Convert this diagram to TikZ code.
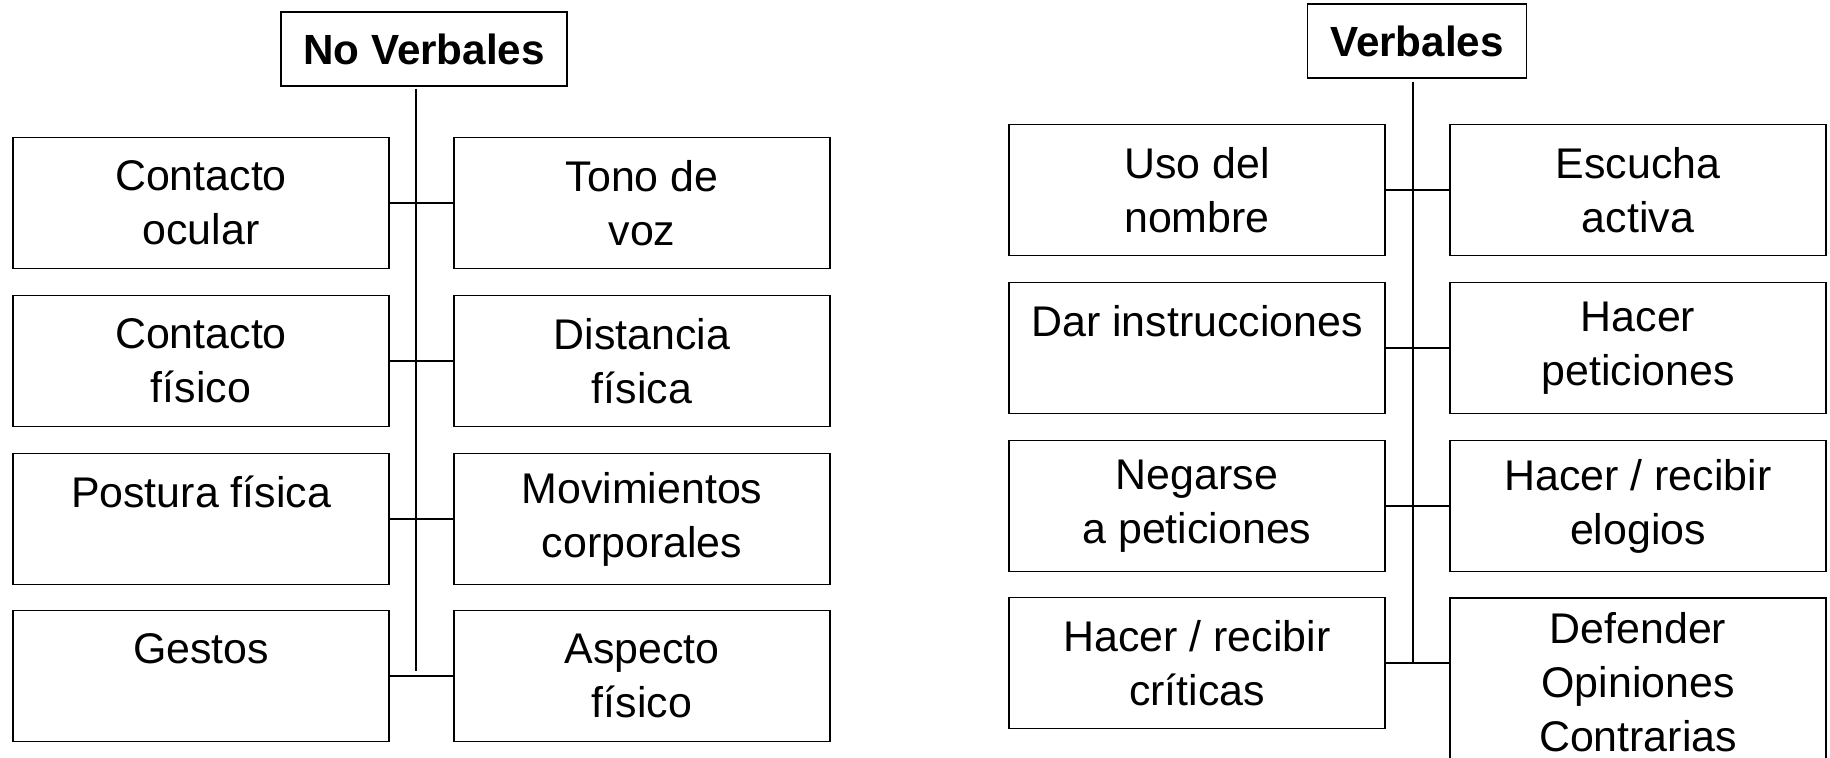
\documentclass[tikz,border=0pt]{standalone}
\usepackage{fontspec}
\setmainfont{Liberation Sans}
\usepackage{tikz}
\usepackage{xcolor}

\begin{document}
\begin{tikzpicture}[x=0.01cm, y=-0.01cm,
  every node/.style={font=\fontsize{12.2}{15.4}\selectfont},
  box/.style={draw, rectangle, line width=0.5pt, minimum width=3.76cm, minimum height=1.31cm, align=center, inner sep=2pt},
  headbox/.style={draw, rectangle, line width=0.5pt, minimum height=0.74cm, font=\fontsize{12}{14}\selectfont\bfseries},
  spine/.style={line width=0.6pt},
  link/.style={line width=0.5pt}]
\useasboundingbox (0,0) rectangle (1830,757);

\node[headbox, minimum width=2.86cm] (nv) at (424,49) {No Verbales};
\node[box] (co) at (201,203) {Contacto\\ocular};
\node[box] (tv) at (642,203) {Tono de\\voz};
\node[box] (cf) at (201,361) {Contacto\\físico};
\node[box] (df) at (642,361) {Distancia\\física};
\node[box] (pf) at (201,519) {Postura física\\\mbox{}};
\node[box] (mc) at (642,519) {Movimientos\\corporales};
\node[box] (ge) at (201,676) {Gestos\\\mbox{}};
\node[box] (af) at (642,676) {Aspecto\\físico};
\coordinate (nvend) at (416,671);

\draw[spine] (nvend |- nv.south) ++(0,2) -- (nvend);
\draw[link] (co.east) -- (tv.west);
\draw[link] (cf.east) -- (df.west);
\draw[link] (pf.east) -- (mc.west);
\draw[link] (ge.east) -- (af.west);

\node[headbox, minimum width=2.19cm] (vb) at (1417,41) {Verbales};
\node[box] (un) at (1197,190) {Uso del\\nombre};
\node[box] (ea) at (1638,190) {Escucha\\activa};
\node[box] (di) at (1197,348) {Dar instrucciones\\\mbox{}};
\node[box] (hp) at (1638,348) {Hacer\\peticiones};
\node[box] (np) at (1197,506) {Negarse\\a peticiones};
\node[box] (he) at (1638,506) {Hacer / recibir\\elogios};
\node[box] (hc) at (1197,663) {Hacer / recibir\\críticas};
\node[box, minimum height=1.68cm] (dc) at (1638,682) {Defender\\Opiniones\\Contrarias};
\coordinate (vbend) at (1413,663);

\draw[spine] (vbend |- vb.south) ++(0,3) -- (vbend);
\draw[link] (un.east) -- (ea.west);
\draw[link] (di.east) -- (hp.west);
\draw[link] (np.east) -- (he.west);
\draw[link] (hc.east) -- (hc.east -| dc.west);
\end{tikzpicture}
\end{document}
